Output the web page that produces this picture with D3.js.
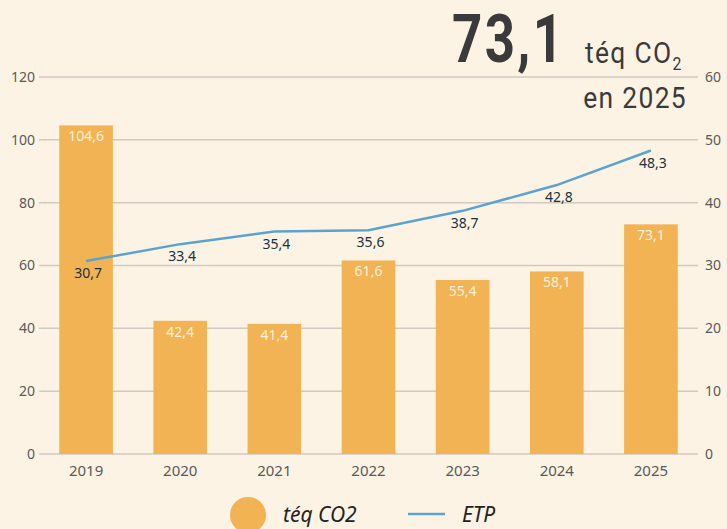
<!DOCTYPE html>
<html>
<head>
<meta charset="utf-8">
<script src="https://cdn.jsdelivr.net/npm/d3@7"></script>
<style>
  body { margin: 0; background: #fdf3e4; }
  svg { display: block; }
  .tick text { font-family: "Noto Sans", sans-serif; fill: #595959; }
</style>
</head>
<body>
<div id="chart"></div>
<script>
// data
var years = ["2019", "2020", "2021", "2022", "2023", "2024", "2025"];
var teqCO2 = [104.6, 42.4, 41.4, 61.6, 55.4, 58.1, 73.1];
var etp = [30.7, 33.4, 35.4, 35.6, 38.7, 42.8, 48.3];
var leftTicks = [0, 20, 40, 60, 80, 100, 120];
var rightTicks = [0, 10, 20, 30, 40, 50, 60];

var svgWidth = 727;
var svgHeight = 529;

var margin = { top: 77, right: 29, bottom: 75, left: 39 };
var width = svgWidth - margin.left - margin.right;
var height = svgHeight - margin.top - margin.bottom;

var fmt = function(v) { return String(v).replace(".", ","); };

var svg = d3.select("#chart")
  .append("svg")
  .attr("width", svgWidth)
  .attr("height", svgHeight);

svg.append("rect")
  .attr("width", svgWidth)
  .attr("height", svgHeight)
  .attr("fill", "#fdf3e4");

var chart = svg.append("g")
  .attr("transform", `translate(${margin.left}, ${margin.top})`);

// scales
var x = d3.scaleBand()
  .domain(years)
  .range([0, width])
  .paddingInner(0.43)
  .paddingOuter(0.215);

var yLeft = d3.scaleLinear().domain([0, 120]).range([height, 0]);
var yRight = d3.scaleLinear().domain([0, 60]).range([height, 0]);

// gridlines
chart.append("g")
  .selectAll("line")
  .data(leftTicks)
  .enter()
  .append("line")
  .attr("x1", 0)
  .attr("x2", width)
  .attr("y1", d => yLeft(d))
  .attr("y2", d => yLeft(d))
  .attr("stroke", "#cfcac2")
  .attr("stroke-width", 1.5);

// axes
var leftAxis = chart.append("g")
  .call(d3.axisLeft(yLeft).tickValues(leftTicks).tickSize(0).tickPadding(4));
leftAxis.select(".domain").remove();
leftAxis.selectAll("text").style("font-size", "14px");

var rightAxis = chart.append("g")
  .attr("transform", `translate(${width}, 0)`)
  .call(d3.axisRight(yRight).tickValues(rightTicks).tickSize(0).tickPadding(7));
rightAxis.select(".domain").remove();
rightAxis.selectAll("text").style("font-size", "14px");

var bottomAxis = chart.append("g")
  .attr("transform", `translate(0, ${height})`)
  .call(d3.axisBottom(x).tickSize(0).tickPadding(11));
bottomAxis.select(".domain").remove();
bottomAxis.selectAll("text").style("font-size", "15px");

// bars
chart.selectAll(".bar")
  .data(years)
  .enter()
  .append("rect")
  .attr("class", "bar")
  .attr("x", d => x(d))
  .attr("width", x.bandwidth())
  .attr("y", (d, i) => yLeft(teqCO2[i]))
  .attr("height", (d, i) => height - yLeft(teqCO2[i]))
  .attr("fill", "#f2b354");

chart.selectAll(".barLabel")
  .data(years)
  .enter()
  .append("text")
  .attr("class", "barLabel")
  .attr("x", d => x(d) + x.bandwidth() / 2)
  .attr("y", (d, i) => yLeft(teqCO2[i]) + 16)
  .attr("text-anchor", "middle")
  .style("font-family", "Noto Sans, sans-serif")
  .style("font-size", "14px")
  .attr("fill", "#fdf0dc")
  .text((d, i) => fmt(teqCO2[i]));

// ETP line
var line = d3.line()
  .x((d, i) => x(years[i]) + x.bandwidth() / 2)
  .y(d => yRight(d));

chart.append("path")
  .datum(etp)
  .attr("d", line)
  .attr("fill", "none")
  .attr("stroke", "#5ba3cf")
  .attr("stroke-width", 2.5);

chart.selectAll(".lineLabel")
  .data(etp)
  .enter()
  .append("text")
  .attr("class", "lineLabel")
  .attr("x", (d, i) => x(years[i]) + x.bandwidth() / 2 + 2)
  .attr("y", d => yRight(d) + 17)
  .attr("text-anchor", "middle")
  .style("font-family", "Noto Sans, sans-serif")
  .style("font-size", "14px")
  .attr("fill", "#18313d")
  .text(d => fmt(d));

// headline
var head = svg.append("g").attr("fill", "#3a3a3a")
  .style("font-family", "Roboto, sans-serif");

head.append("text")
  .attr("transform", "translate(452, 62) scale(0.8, 1)")
  .style("font-size", "66px")
  .style("font-weight", "bold")
  .style("letter-spacing", "3px")
  .text("73,1");

var unit = head.append("text")
  .attr("transform", "translate(585, 63) scale(0.88, 1)")
  .style("font-size", "30px")
  .style("letter-spacing", "1.5px");
unit.append("tspan").text("téq CO");
unit.append("tspan").attr("dy", 7).style("font-size", "18px").text("2");

head.append("text")
  .attr("transform", "translate(687, 108) scale(0.88, 1)")
  .attr("text-anchor", "end")
  .style("font-size", "30px")
  .style("letter-spacing", "1.5px")
  .text("en 2025");

// legend
var legend = svg.append("g")
  .style("font-family", "Noto Sans, sans-serif")
  .style("font-style", "italic")
  .style("font-size", "21px")
  .attr("fill", "#222");

legend.append("ellipse")
  .attr("cx", 248).attr("cy", 515)
  .attr("rx", 18).attr("ry", 18)
  .attr("fill", "#f2b354");
legend.append("text").attr("x", 283).attr("y", 522).text("téq CO2");

legend.append("line")
  .attr("x1", 408).attr("x2", 445)
  .attr("y1", 514).attr("y2", 514)
  .attr("stroke", "#5ba3cf").attr("stroke-width", 2.5);
legend.append("text").attr("x", 462).attr("y", 522).text("ETP");
</script>
</body>
</html>
